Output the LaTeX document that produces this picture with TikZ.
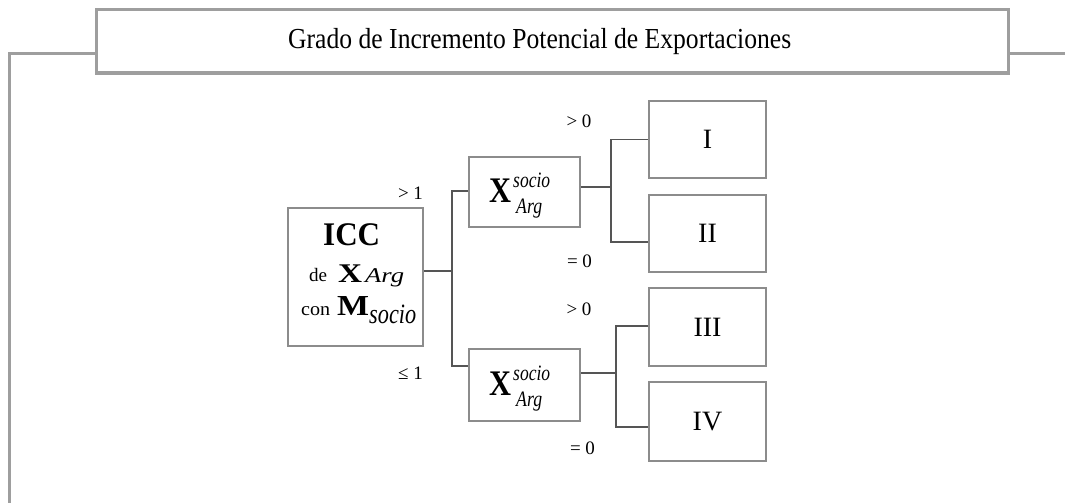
\documentclass[tikz,border=0pt]{standalone}
\usepackage{fontspec}
\usepackage{graphicx}
\setmainfont{Liberation Serif}
\definecolor{framegray}{HTML}{9E9E9E}
\definecolor{boxgray}{HTML}{8C8C8C}
\definecolor{linegray}{HTML}{555555}
\newcommand{\rw}[2]{\resizebox{#1pt}{\height}{#2}}
\newcommand{\fs}[1]{\fontsize{#1}{#1}\selectfont}
\begin{document}
\begin{tikzpicture}[x=1pt,y=-1pt,
  framebox/.style={draw=framegray,line width=3pt,minimum width=912pt,minimum height=63pt,inner sep=0pt},
  frameline/.style={draw=framegray,line width=3pt},
  cellbox/.style={draw=boxgray,line width=1.8pt,inner sep=0pt,align=center},
  numbox/.style={cellbox,minimum width=117pt,font=\fs{28}},
  conn/.style={draw=linegray,line width=1.4pt},
  txt/.style={inner sep=0pt,anchor=base west},
  lab/.style={inner sep=0pt,font=\fs{19}}]
\useasboundingbox (0,0) rectangle (1065,503);
% frame
\node[framebox] (title) at (552,41.5) {};
\node[txt] (ttext) at (288,49) {\rw{503}{\fs{29}Grado de Incremento Potencial de Exportaciones}};
\coordinate (tl) at (96,54);
\coordinate (tr) at (1008,54);
\coordinate (fl) at (9,54);
\coordinate (fb) at (9,503);
\coordinate (fr) at (1065,54);
\draw[frameline] (tl) -- (fl) -- (fb);
\draw[frameline] (tr) -- (fr);

% ICC box
\node[cellbox,minimum width=135pt,minimum height=138pt] (icc) at (355.5,277) {};
\node[txt] (t1) at (323,245) {\rw{57}{\fs{33}\bfseries ICC}};
\node[txt] (t2) at (309,281) {\rw{18}{\fs{19}de}};
\node[txt] (t3) at (338,282) {\rw{24}{\fs{27}\bfseries X}};
\node[txt] (t4) at (365,282) {\rw{39}{\fs{21}\itshape Arg}};
\node[txt] (t5) at (301,315) {\rw{29}{\fs{19}con}};
\node[txt] (t6) at (337,315) {\rw{32}{\fs{29}\bfseries M}};
\node[txt] (t7) at (369,323) {\rw{47}{\fs{28}\itshape socio}};

% X socio Arg boxes
\node[cellbox,minimum width=111pt,minimum height=70pt] (xa) at (524.5,192) {};
\node[txt] (xa1) at (489,202) {\rw{22}{\fs{36}\bfseries X}};
\node[txt] (xa2) at (513,187) {\rw{37}{\fs{22}\itshape socio}};
\node[txt] (xa3) at (516,213) {\rw{26}{\fs{22}\itshape Arg}};

\node[cellbox,minimum width=111pt,minimum height=72pt] (xb) at (524.5,385) {};
\node[txt] (xb1) at (489,395) {\rw{22}{\fs{36}\bfseries X}};
\node[txt] (xb2) at (513,380) {\rw{37}{\fs{22}\itshape socio}};
\node[txt] (xb3) at (516,406) {\rw{26}{\fs{22}\itshape Arg}};

% result boxes
\node[numbox,minimum height=77pt] (b1) at (707.5,139.5) {I};
\node[numbox,minimum height=77pt] (b2) at (707.5,233.5) {II};
\node[numbox,minimum height=78pt] (b3) at (707.5,327) {III};
\node[numbox,minimum height=79pt] (b4) at (707.5,421.5) {IV};

% labels
\node[lab] (l1) at (410.5,193) {> 1};
\node[lab] (l2) at (410.5,373.5) {≤ 1};
\node[lab] (l3) at (579,121.5) {> 0};
\node[lab] (l4) at (579.5,261) {= 0};
\node[lab] (l5) at (579,309.5) {> 0};
\node[lab] (l6) at (582.5,448.5) {= 0};

% connectors
\coordinate (j1) at (452,271);
\coordinate (j1a) at (452,191);
\coordinate (j1b) at (452,366);
\draw[conn] (icc.east |- j1) -- (j1);
\draw[conn] (xa.west |- j1a) -- (j1a) -- (j1b) -- (xb.west |- j1b);

\coordinate (j2) at (611,187);
\coordinate (j2a) at (611,139.5);
\coordinate (j2b) at (611,242);
\draw[conn] (xa.east |- j2) -- (j2);
\draw[conn] (b1.west |- j2a) -- (j2a) -- (j2b) -- (b2.west |- j2b);

\coordinate (j3) at (616,373);
\coordinate (j3a) at (616,326);
\coordinate (j3b) at (616,427);
\draw[conn] (xb.east |- j3) -- (j3);
\draw[conn] (b3.west |- j3a) -- (j3a) -- (j3b) -- (b4.west |- j3b);
\end{tikzpicture}
\end{document}
